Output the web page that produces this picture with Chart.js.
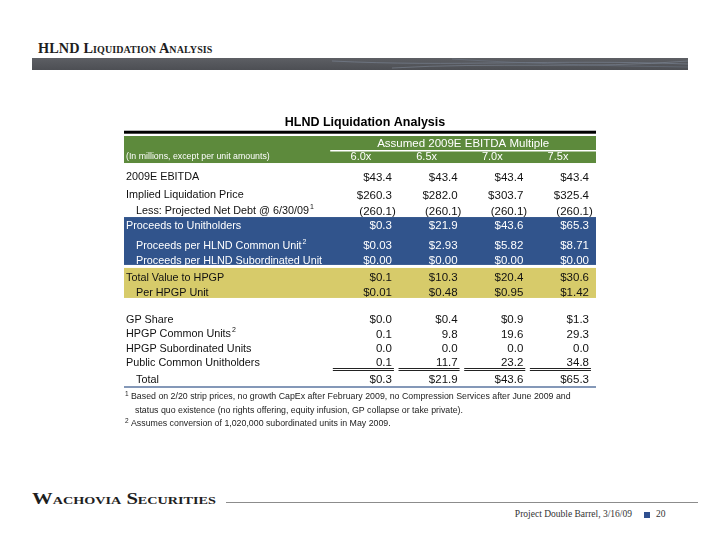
<!DOCTYPE html>
<html>
<head>
<meta charset="utf-8">
<script src="https://cdn.jsdelivr.net/npm/chart.js@4.4.1/dist/chart.umd.min.js"></script>
<style>
  html, body { margin: 0; padding: 0; background: #fff; }
  #page { position: relative; width: 720px; height: 556px; overflow: hidden; }
  .hdr { position: absolute; left: 38px; top: 40px; font: bold 14.3px "Liberation Serif", serif; font-variant: small-caps; color: #1e1e1e; letter-spacing: 0.1px; }
  .band { position: absolute; left: 32px; top: 58px; width: 656px; height: 12px; background: linear-gradient(180deg, #5d5f64 0%, #53555a 60%, #4d4f54 100%); }
  .band svg { position: absolute; left: 0; top: 0; }
  .brand { position: absolute; left: 32px; top: 490px; font: bold 16px "Liberation Serif", serif; font-variant: small-caps; color: #1e1e1e; transform: scaleX(1.29); transform-origin: left top; }
  .rule { position: absolute; left: 226px; top: 502px; width: 472px; height: 1px; background: #8c8c8c; }
  .foot { position: absolute; right: 88px; top: 509px; font: 9.5px "Liberation Serif", serif; color: #333; }
  .sq { position: absolute; left: 644px; top: 512px; width: 6px; height: 6px; background: #2f4f8f; }
  .pg { position: absolute; left: 656px; top: 509px; font: 9.5px "Liberation Serif", serif; color: #333; }
  canvas { position: absolute; left: 0; top: 0; }
</style>
</head>
<body>
<div id="page">
  <div class="hdr">HLND Liquidation Analysis</div>
  <div class="band">
    <svg width="656" height="12">
      <path d="M300 3 C 420 9, 520 1, 656 6" stroke="#7b8696" stroke-width="1" fill="none" opacity="0.6"/>
      <path d="M360 10 C 460 4, 560 11, 656 3" stroke="#8590a0" stroke-width="1" fill="none" opacity="0.5"/>
      <path d="M420 1 C 500 6, 580 8, 656 9" stroke="#6f7a8a" stroke-width="1" fill="none" opacity="0.5"/>
    </svg>
  </div>
  <div class="brand">Wachovia Securities</div>
  <div class="rule"></div>
  <div class="foot">Project Double Barrel, 3/16/09</div>
  <div class="sq"></div>
  <div class="pg">20</div>
  <canvas id="chart" width="720" height="556"></canvas>
</div>
<script>
// table content
const tableTitle = "HLND Liquidation Analysis";
const groupTitle = "Assumed 2009E EBITDA Multiple";
const unitsNote = "(In millions, except per unit amounts)";
const multiples = ["6.0x", "6.5x", "7.0x", "7.5x"];

const rowLabels = [
  "2009E EBITDA",
  "Implied Liquidation Price",
  "Less: Projected Net Debt @ 6/30/09",
  "Proceeds to Unitholders",
  "Proceeds per HLND Common Unit",
  "Proceeds per HLND Subordinated Unit",
  "Total Value to HPGP",
  "Per HPGP Unit",
  "GP Share",
  "HPGP Common Units",
  "HPGP Subordinated Units",
  "Public Common Unitholders",
  "Total"
];
const rowNotes = ["", "", "1", "", "2", "", "", "", "", "2", "", "", ""];

const ebitda = [43.4, 43.4, 43.4, 43.4];
const liquidationPrice = [260.3, 282.0, 303.7, 325.4];
const netDebt = [-260.1, -260.1, -260.1, -260.1];
const proceedsUnitholders = [0.3, 21.9, 43.6, 65.3];
const perCommonUnit = [0.03, 2.93, 5.82, 8.71];
const perSubUnit = [0.00, 0.00, 0.00, 0.00];
const totalValueHPGP = [0.1, 10.3, 20.4, 30.6];
const perHPGPUnit = [0.01, 0.48, 0.95, 1.42];
const gpShare = [0.0, 0.4, 0.9, 1.3];
const hpgpCommon = [0.1, 9.8, 19.6, 29.3];
const hpgpSub = [0.0, 0.0, 0.0, 0.0];
const publicCommon = [0.1, 11.7, 23.2, 34.8];
const totalUnits = [0.3, 21.9, 43.6, 65.3];

const footnotes = [
  ["1", "Based on 2/20 strip prices, no growth CapEx after February 2009, no Compression Services after June 2009 and"],
  ["", "status quo existence (no rights offering, equity infusion, GP collapse or take private)."],
  ["2", "Assumes conversion of 1,020,000 subordinated units in May 2009."]
];

const rowValues = [ebitda, liquidationPrice, netDebt, proceedsUnitholders, perCommonUnit, perSubUnit,
  totalValueHPGP, perHPGPUnit, gpShare, hpgpCommon, hpgpSub, publicCommon, totalUnits];

// formatting / layout per row (not data)
const rowDollar = [true, true, false, true, true, true, true, true, true, false, false, false, true];
const rowDecimals = [1, 1, 1, 1, 2, 2, 1, 2, 1, 1, 1, 1, 1];
const rowIndent = [0, 0, 1, 0, 1, 1, 0, 1, 0, 0, 0, 0, 1];
const rowGapBefore = [0, 0.26, 0.12, 0, 0.4, 0.05, 0.2, 0.05, 0.9, 0, 0, 0, 0.18];
const whiteRows = [3, 4, 5];

const rowPos = [];
rowGapBefore.forEach((g, i) => rowPos.push(i === 0 ? 0.1 : rowPos[i - 1] + 1 + g));

function fmt(v, i) {
  const s = Math.abs(v).toFixed(rowDecimals[i]);
  if (v < 0) return "(" + s;
  return (rowDollar[i] ? "$" : "") + s;
}

const FONT = '"Liberation Sans", Arial, sans-serif';

const tablePlugin = {
  id: "tablePlugin",
  beforeDatasetsDraw(chart) {
    const { ctx, chartArea: a, scales: { x, y } } = chart;
    const L = a.left, R = a.right, W = R - L;
    ctx.save();
    // title + heavy rule
    ctx.fillStyle = "#000";
    ctx.font = "bold 12.5px " + FONT;
    ctx.textAlign = "center";
    ctx.textBaseline = "middle";
    ctx.fillText(tableTitle, L + W / 2 + 5, y.getPixelForValue(-3.76));
    ctx.fillRect(L, y.getPixelForValue(-3.17), W, 3);
    // green header band
    const gTop = y.getPixelForValue(-2.8), gBot = y.getPixelForValue(-0.91);
    ctx.fillStyle = "#5d8a3c";
    ctx.fillRect(L, gTop, W, gBot - gTop);
    // blue band
    let t = y.getPixelForValue(2.87), b = y.getPixelForValue(6.22);
    ctx.fillStyle = "#31548c";
    ctx.fillRect(L, t, W, b - t);
    // yellow band
    t = y.getPixelForValue(6.43); b = y.getPixelForValue(8.53);
    ctx.fillStyle = "#d7cb6a";
    ctx.fillRect(L, t, W, b - t);
    // header texts
    ctx.fillStyle = "#fff";
    ctx.font = "11.5px " + FONT;
    ctx.textAlign = "center";
    const gl = x.getPixelForValue(0.06);
    ctx.fillText(groupTitle, (gl + R) / 2, y.getPixelForValue(-2.24));
    ctx.fillRect(gl, Math.round(y.getPixelForValue(-1.8)), R - gl, 1.5);
    ctx.textAlign = "left";
    ctx.font = "11px " + FONT;
    multiples.forEach((m, j) => ctx.fillText(m, x.getPixelForValue(j + 1 - 0.63), y.getPixelForValue(-1.34)));
    ctx.font = "8.8px " + FONT;
    ctx.fillText(unitsNote, L + 2, y.getPixelForValue(-1.34));
    // row labels
    rowLabels.forEach((lab, i) => {
      const py = y.getPixelForValue(rowPos[i]);
      const px = L + 2 + rowIndent[i] * 10;
      ctx.fillStyle = whiteRows.includes(i) ? "#fff" : "#111";
      ctx.font = "10.8px " + FONT;
      ctx.textAlign = "left";
      ctx.fillText(lab, px, py);
      if (rowNotes[i]) {
        const w = ctx.measureText(lab).width;
        ctx.font = "7px " + FONT;
        ctx.fillText(rowNotes[i], px + w + 1, py - 4);
      }
    });
    // double underline under Public Common Unitholders
    const uy = y.getPixelForValue(rowPos[11]);
    ctx.fillStyle = "#222";
    for (let j = 1; j <= 4; j++) {
      const x0 = x.getPixelForValue(j - 0.9), x1 = x.getPixelForValue(j + 0.03);
      ctx.fillRect(x0, Math.round(uy + 5), x1 - x0, 1);
      ctx.fillRect(x0, Math.round(uy + 7), x1 - x0, 1);
    }
    // bottom rule
    ctx.fillStyle = "#8498b8";
    ctx.fillRect(L, a.bottom - 1, W, 2);
    // footnotes
    ctx.fillStyle = "#222";
    footnotes.forEach((f, k) => {
      const fy = a.bottom + 10 + k * 13.5;
      if (f[0]) {
        ctx.font = "6.5px " + FONT;
        ctx.fillText(f[0], L + 1, fy - 3);
      }
      ctx.font = "8.8px " + FONT;
      ctx.fillText(f[1], L + (f[0] ? 7 : 11), fy);
    });
    ctx.restore();
  },
  afterDatasetsDraw(chart) {
    const { ctx } = chart;
    ctx.save();
    ctx.font = "11.5px " + FONT;
    ctx.textBaseline = "middle";
    chart.data.datasets.forEach((ds, j) => {
      chart.getDatasetMeta(j).data.forEach((pt, i) => {
        const v = rowValues[i][j];
        ctx.fillStyle = whiteRows.includes(i) ? "#fff" : "#111";
        ctx.textAlign = "right";
        ctx.fillText(fmt(v, i), pt.x, pt.y);
        if (v < 0) {
          ctx.textAlign = "left";
          ctx.fillText(")", pt.x, pt.y);
        }
      });
    });
    ctx.restore();
  }
};

new Chart(document.getElementById("chart"), {
  type: "scatter",
  data: {
    datasets: multiples.map((m, j) => ({
      label: m,
      data: rowValues.map((vals, i) => ({ x: j + 1, y: rowPos[i] })),
      pointRadius: 0
    }))
  },
  options: {
    responsive: false,
    animation: false,
    layout: { padding: { left: 124, right: 124, top: 136, bottom: 169 } },
    scales: {
      x: { type: "linear", min: -3.08, max: 4.107, display: false },
      y: { type: "linear", min: -2.8, max: 14.76, reverse: true, display: false }
    },
    plugins: { legend: { display: false }, tooltip: { enabled: false } }
  },
  plugins: [tablePlugin]
});
</script>
</body>
</html>
